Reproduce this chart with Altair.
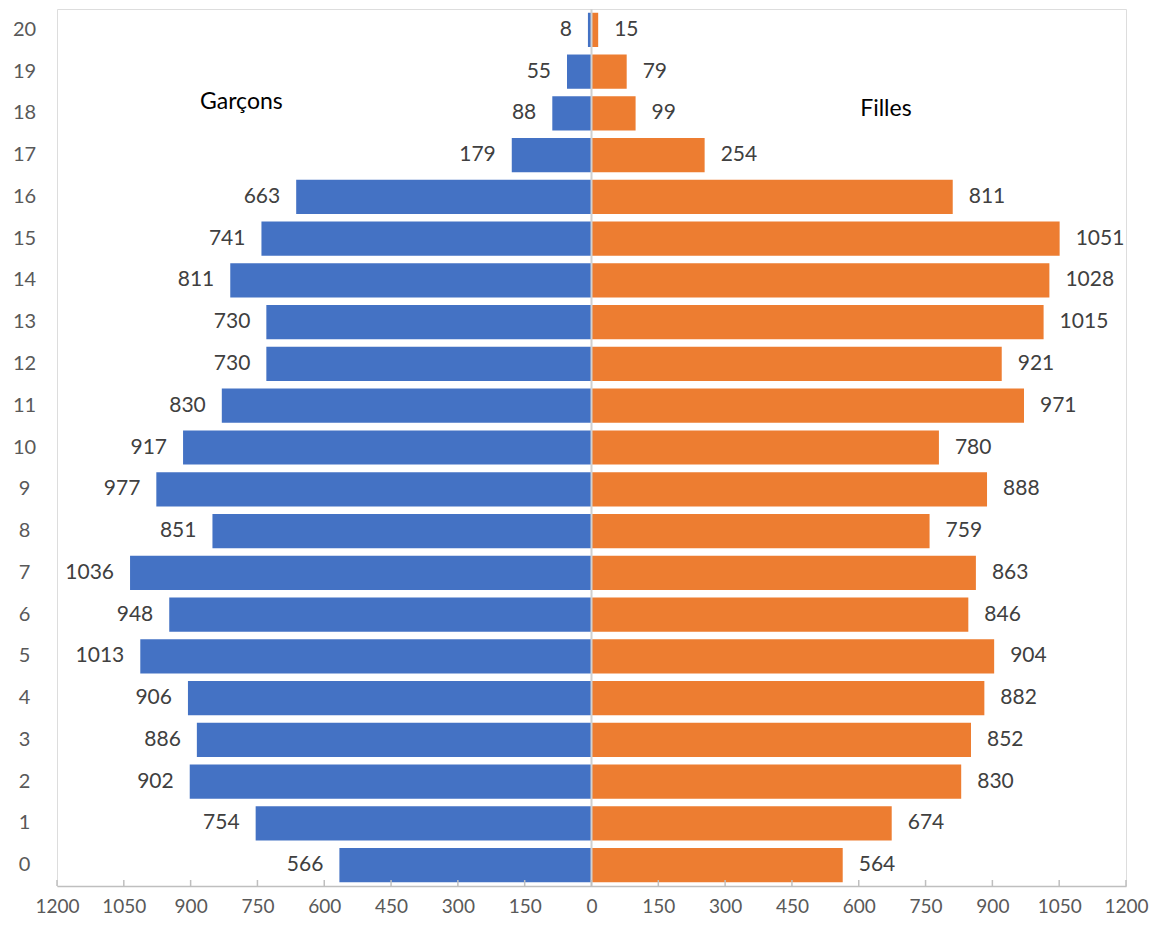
import altair as alt
import pandas as pd

ages = [str(i) for i in range(21)]
garcons = [566, 754, 902, 886, 906, 1013, 948, 1036, 851, 977, 917, 830, 730, 730, 811, 741, 663, 179, 88, 55, 8]
filles = [564, 674, 830, 852, 882, 904, 846, 863, 759, 888, 780, 971, 921, 1015, 1028, 1051, 811, 254, 99, 79, 15]
x_ticks = list(range(-1200, 1201, 150))

rows = []
for a, g, f in zip(ages, garcons, filles):
    rows.append({"age": a, "sexe": "Garçons", "v": -g, "lab": str(g)})
    rows.append({"age": a, "sexe": "Filles", "v": f, "lab": str(f)})
df = pd.DataFrame(rows)

W, H = 1069, 877
FONT = "Lato"
order = ages[::-1]

yscale = alt.Scale(domain=order, paddingInner=0.18, paddingOuter=0.09)
xscale = alt.Scale(domain=[-1200, 1200], nice=False)

base = alt.Chart(df)

bars = base.mark_bar().encode(
    x=alt.X("v:Q", scale=xscale,
            axis=alt.Axis(values=x_ticks, labelExpr="abs(datum.value)", title=None,
                          grid=False, ticks=False, domain=True, domainColor="#bfbfbf",
                          domainWidth=1.5, labelPadding=11, labelFontSize=19,
                          labelOverlap=False, labelFlush=False,
                          labelColor="#595959", labelFont=FONT)),
    y=alt.Y("age:N", scale=yscale, sort=order,
            axis=alt.Axis(title=None, ticks=False, domain=False, labelAlign="center",
                          labelPadding=33, labelFontSize=20, labelColor="#595959",
                          labelFont=FONT)),
    color=alt.Color("sexe:N", scale=alt.Scale(domain=["Garçons", "Filles"],
                                               range=["#4472C4", "#ED7D31"]), legend=None),
)

lab_g = base.transform_filter("datum.sexe == 'Garçons'").mark_text(
    align="right", baseline="middle", dx=-16, fontSize=21, font=FONT, color="#404040"
).encode(x=alt.X("v:Q", scale=xscale), y=alt.Y("age:N", scale=yscale, sort=order), text="lab:N")

lab_f = base.transform_filter("datum.sexe == 'Filles'").mark_text(
    align="left", baseline="middle", dx=16, fontSize=21, font=FONT, color="#404040"
).encode(x=alt.X("v:Q", scale=xscale), y=alt.Y("age:N", scale=yscale, sort=order), text="lab:N")

center = alt.Chart(pd.DataFrame({"x": [0]})).mark_rule(color="#d0d0d0", strokeWidth=2).encode(
    x=alt.X("x:Q", scale=xscale)
)

ticks = alt.Chart(pd.DataFrame({"t": x_ticks})).mark_rule(color="#bfbfbf", strokeWidth=1.5).encode(
    x=alt.X("t:Q", scale=xscale), y=alt.value(H - 6), y2=alt.value(H)
)

ann_g = alt.Chart(pd.DataFrame({"x": [-786], "age": ["18"], "t": ["Garçons"]})).mark_text(
    fontSize=23, font=FONT, color="#000000", baseline="middle", align="center", dy=-11
).encode(x=alt.X("x:Q", scale=xscale), y=alt.Y("age:N", scale=yscale, sort=order), text="t:N")

ann_f = alt.Chart(pd.DataFrame({"x": [661], "age": ["18"], "t": ["Filles"]})).mark_text(
    fontSize=23, font=FONT, color="#000000", baseline="middle", align="center", dy=-4
).encode(x=alt.X("x:Q", scale=xscale), y=alt.Y("age:N", scale=yscale, sort=order), text="t:N")

chart = alt.layer(bars, lab_g, lab_f, center, ticks, ann_g, ann_f).properties(
    width=W, height=H,
    autosize=alt.AutoSizeParams(type="none"),
    padding={"left": 49, "top": 1, "right": 25, "bottom": 34},
).configure_view(stroke="#d9d9d9", strokeWidth=1.5).configure(background="white")

chart.save("out.html", embed_options={"renderer": "svg", "actions": False})
